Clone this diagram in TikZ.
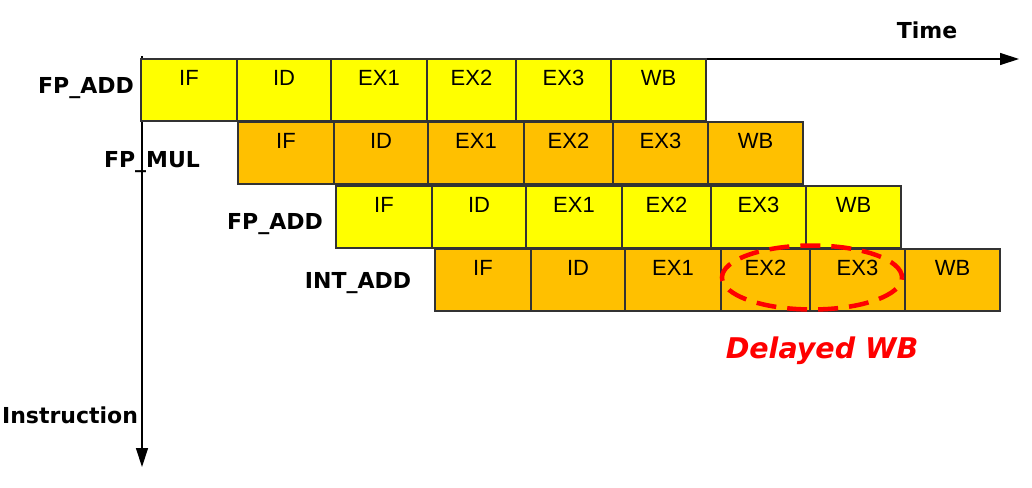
\documentclass[tikz,border=0pt]{standalone}
\usepackage{fontspec}
\setmainfont{Liberation Sans}
\newfontfamily\labelfont{DejaVu Sans}
\usetikzlibrary{positioning,arrows.meta}

\definecolor{addyellow}{HTML}{FFFF00}
\definecolor{mulorange}{HTML}{FFC000}
\definecolor{boxline}{HTML}{333333}

\tikzset{
  stagebox/.style={draw=boxline, line width=1.5pt, rectangle, inner sep=0pt, outer sep=0pt,
    text height=26pt, text depth=36pt, font=\fontsize{22}{26}\selectfont},
  rowlabel/.style={anchor=base, inner sep=0pt, font=\labelfont\bfseries\fontsize{22}{26}\selectfont},
  axisline/.style={line width=1.3pt, -{Triangle[length=19pt,width=12pt]}}
}

\begin{document}
\begin{tikzpicture}[x=1pt, y=-1pt]
    \useasboundingbox (0,0) rectangle (1032,487);

    % Axes
    \coordinate (origin) at (142,56);
    \coordinate (timeorigin) at (141,59);
    \coordinate (timeend) at (1019,59);
    \coordinate (instrend) at (142,467);
    \draw[axisline] (origin) -- (instrend);
    \draw[axisline] (timeorigin) -- (timeend);

    % One pipeline row per instruction
    \foreach \row/\x/\y/\col in {1/141/59/addyellow, 2/238/122/mulorange,
                                 3/336/186/addyellow, 4/435/249/mulorange} {
        \node[stagebox, fill=\col, minimum width=96pt, anchor=north west] (r\row if) at (\x,\y) {IF};
        \node[stagebox, fill=\col, minimum width=94pt, right=0pt of r\row if] (r\row id) {ID};
        \node[stagebox, fill=\col, minimum width=96pt, right=0pt of r\row id] (r\row ex1) {EX1};
        \node[stagebox, fill=\col, minimum width=89pt, right=0pt of r\row ex1] (r\row ex2) {EX2};
        \node[stagebox, fill=\col, minimum width=95pt, right=0pt of r\row ex2] (r\row ex3) {EX3};
        \node[stagebox, fill=\col, minimum width=95pt, right=0pt of r\row ex3] (r\row wb) {WB};
    }

    % Labels
    \node[rowlabel] (fpadda) at (86,93) {FP\_ADD};
    \node[rowlabel] (fpmul) at (152,167) {FP\_MUL};
    \node[rowlabel] (fpaddb) at (275,229) {FP\_ADD};
    \node[rowlabel] (intadd) at (358,288) {INT\_ADD};
    \node[rowlabel] (time) at (927,38) {Time};
    \node[rowlabel] (instr) at (70,423) {Instruction};

    % Delayed write back
    \draw[red, line width=4.5pt, dash pattern=on 20pt off 11pt] (812,277.5) ellipse (90pt and 32pt);
    \node[rowlabel, text=red, font=\labelfont\bfseries\itshape\fontsize{28.5}{32}\selectfont] (delayed) at (822,358) {Delayed WB};
\end{tikzpicture}
\end{document}
